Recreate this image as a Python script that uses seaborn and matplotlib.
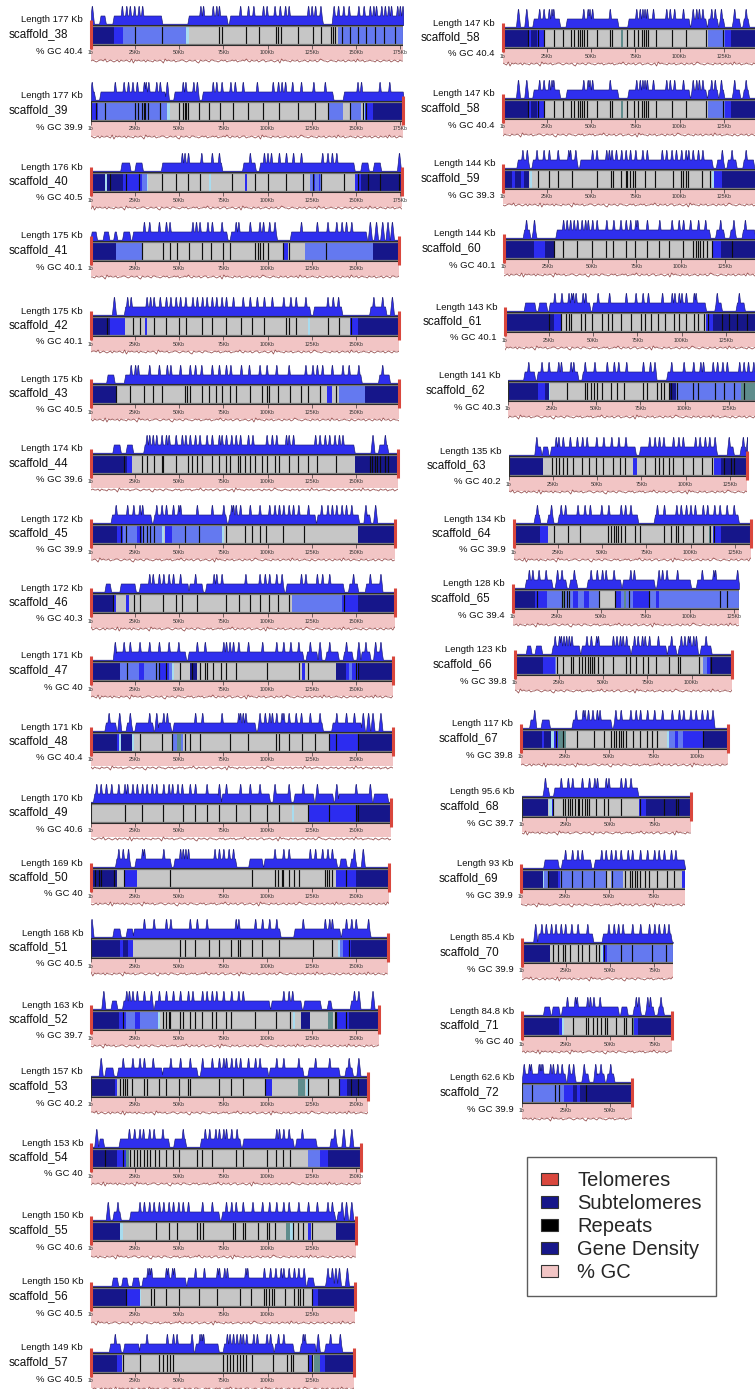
import numpy as np
import matplotlib
matplotlib.use("Agg")
import matplotlib.pyplot as plt
from matplotlib.patches import Patch
import seaborn as sns

# ---------------- data ----------------
SCAFFOLDS = ["scaffold_%d" % n for n in range(38, 73)]
LENGTHS_KB = [177, 177, 176, 174.6, 174.6, 174.6, 174, 172, 172, 171, 171, 170, 169, 168, 163,
              157, 153, 150.4, 149.6, 149, 147, 144, 144, 143, 141, 135, 134, 128, 123, 117,
              95.6, 93, 85.4, 84.8, 62.6]
GC_PERCENT = [40.4, 39.9, 40.5, 40.1, 40.1, 40.5, 39.6, 39.9, 40.3, 40.0, 40.4, 40.6, 40.0, 40.5,
              39.7, 40.2, 40.0, 40.6, 40.5, 40.5, 40.4, 39.3, 40.1, 40.1, 40.3, 40.2, 39.9, 39.4,
              39.8, 39.8, 39.7, 39.9, 39.9, 40.0, 39.9]
TELOMERES = ["L", "R", "LR", "LR", "LR", "LR", "LR", "LR", "LR", "LR", "LR", "R", "LR", "R", "LR",
             "R", "LR", "LR", "LR", "LR", "L", "L", "L", "L", "", "R", "LR", "L", "LR", "LR",
             "R", "L", "L", "LR", "R"]

# coloured blocks on the chromosome bar: (start kb, end kb, class)
# N = subtelomere navy, B = bright blue, L = light blue, C = cyan, T = teal
SEGMENTS = [
    [(0, 13, 'N'), (13, 18, 'B'), (18, 54, 'L'), (54, 55.5, 'C'), (140, 177, 'L')],
    [(0, 4, 'B'), (4, 43, 'L'), (43, 44.5, 'C'), (135, 143, 'L'), (147.5, 153, 'L'), (154, 155, 'C'), (155, 160, 'B'), (160, 177, 'N')],
    [(0, 18, 'N'), (8, 9, 'C'), (18, 29, 'B'), (29, 31.5, 'L'), (31.5, 32.5, 'C'), (67, 68, 'C'), (87, 88.5, 'B'), (124, 131, 'L'), (126, 127, 'B'), (129, 130, 'B'), (149.5, 153, 'B'), (153, 176, 'N')],
    [(0, 14, 'N'), (14, 29, 'L'), (108.5, 111.5, 'B'), (121.5, 160, 'L'), (160, 175, 'N')],
    [(0, 11, 'N'), (11, 19, 'B'), (30.5, 32, 'B'), (123, 124, 'C'), (147, 151.5, 'B'), (151.5, 175, 'N')],
    [(0, 14, 'N'), (133.5, 136.5, 'B'), (140.5, 155, 'L'), (155, 175, 'N')],
    [(0, 20.5, 'N'), (20.5, 23.5, 'B'), (149.5, 174, 'N')],
    [(0, 15, 'N'), (15, 18, 'B'), (18, 38, 'L'), (26, 29, 'B'), (38, 40, 'L'), (40, 41.5, 'C'), (42, 46, 'B'), (46, 74, 'L'), (74, 75.5, 'C'), (151.5, 172, 'N')],
    [(0, 12.5, 'N'), (12.5, 14, 'B'), (20, 21.5, 'B'), (114, 142, 'L'), (142, 151.5, 'B'), (151.5, 172, 'N')],
    [(0, 16.5, 'N'), (16.5, 38.5, 'L'), (27, 30, 'B'), (38.5, 44, 'B'), (44, 46, 'L'), (46, 47, 'C'), (56, 60, 'N'), (119.5, 121.5, 'B'), (139, 144.5, 'N'), (144.5, 151, 'B'), (146, 148, 'L'), (151, 171, 'N')],
    [(0, 14.5, 'N'), (14.5, 17, 'B'), (16, 17, 'C'), (17, 23, 'N'), (23, 24.5, 'C'), (46.5, 52, 'L'), (49, 51, 'T'), (135, 151.5, 'B'), (151.5, 171, 'N')],
    [(114, 115, 'C'), (123, 150, 'B'), (150, 170, 'N')],
    [(0, 15, 'N'), (18.5, 26, 'B'), (139, 150, 'B'), (150, 169, 'N')],
    [(0, 16.5, 'N'), (16.5, 24, 'B'), (18, 21, 'N'), (140, 141, 'C'), (141, 143, 'L'), (143, 147.5, 'B'), (147.5, 168, 'N')],
    [(0, 16, 'N'), (16, 20, 'B'), (20, 38, 'L'), (25, 28, 'B'), (38, 39, 'C'), (114.5, 115.5, 'C'), (119, 124, 'N'), (134, 137, 'T'), (138, 146, 'B'), (146, 163, 'N')],
    [(0, 13.5, 'N'), (13.5, 15, 'B'), (98.5, 102.5, 'B'), (117.5, 121.5, 'T'), (122, 123, 'C'), (140.5, 145, 'B'), (145, 157, 'N')],
    [(0, 15, 'N'), (15, 20, 'B'), (20, 21.5, 'T'), (123, 130, 'L'), (130, 134, 'B'), (134, 153, 'N')],
    [(0, 16.5, 'N'), (16.5, 18, 'C'), (110.5, 112.5, 'T'), (112.5, 114.5, 'C'), (123, 124.5, 'B'), (139, 150.4, 'N')],
    [(0, 20.5, 'N'), (20.5, 27.5, 'B'), (27.5, 28.5, 'C'), (126, 128.5, 'B'), (128.5, 150, 'N')],
    [(0, 14.5, 'N'), (14.5, 17.5, 'B'), (123, 125, 'B'), (126.5, 129.5, 'T'), (129.5, 132.5, 'B'), (132.5, 149, 'N')],
    [(0, 14, 'N'), (14, 23.5, 'B'), (16, 19, 'N'), (67, 68, 'T'), (116, 125.5, 'L'), (125.5, 129, 'B'), (129, 147, 'N')],
    [(0, 15, 'N'), (5, 7, 'B'), (10, 12, 'B'), (15.5, 16.5, 'C'), (118.5, 119.5, 'C'), (119.5, 124, 'B'), (124, 144, 'N')],
    [(0, 17, 'N'), (17, 23, 'B'), (23, 28.5, 'N'), (118, 123, 'B'), (123, 144, 'N')],
    [(0, 28, 'N'), (28, 32, 'B'), (114, 118, 'B'), (118, 143, 'N')],
    [(0, 23, 'N'), (17, 21, 'B'), (23, 24, 'C'), (92, 95, 'N'), (95, 132, 'L'), (132, 141, 'T')],
    [(0, 19.5, 'N'), (70, 72.5, 'B'), (116, 120, 'B'), (120, 135, 'N')],
    [(0, 19.5, 'N'), (15, 19.5, 'B'), (110.5, 111.5, 'T'), (112.5, 117.5, 'B'), (117.5, 134, 'N')],
    [(0, 12.5, 'N'), (12.5, 19, 'B'), (19, 27.5, 'L'), (27.5, 29.5, 'T'), (29.5, 48.5, 'L'), (34, 37, 'B'), (40, 43, 'B'), (48.5, 49.5, 'C'), (58, 61, 'B'), (61, 63, 'L'), (63, 64, 'T'), (64, 68, 'L'), (68, 77, 'B'), (77, 81, 'L'), (81, 83, 'B'), (83, 128, 'L')],
    [(0, 15.8, 'N'), (15.8, 22.5, 'B'), (22.5, 23.5, 'L'), (106.5, 108.5, 'L'), (108.5, 110.5, 'B'), (110.5, 123, 'N')],
    [(0, 17, 'N'), (12, 13, 'B'), (17, 18.5, 'C'), (18.5, 21, 'B'), (21, 25.3, 'T'), (83, 84, 'C'), (84, 92, 'L'), (87, 89, 'B'), (92, 103, 'B'), (103, 117, 'N')],
    [(0, 15, 'N'), (15.5, 17, 'C'), (17, 18, 'B'), (66.5, 70, 'B'), (70, 95.6, 'N')],
    [(0, 12.3, 'N'), (12.3, 13.3, 'C'), (13.3, 15.5, 'L'), (15.5, 21, 'N'), (21, 22.3, 'B'), (22.3, 48.2, 'L'), (51, 57.8, 'L'), (91.3, 93, 'B')],
    [(0, 15.8, 'N'), (45, 46, 'C'), (46, 85.4, 'L'), (46, 48, 'B')],
    [(0, 20.8, 'N'), (20.8, 22.6, 'B'), (22.6, 23.6, 'C'), (62.3, 63.2, 'T'), (63.2, 66, 'B'), (66, 84.8, 'N')],
    [(0, 23.6, 'L'), (23.6, 29, 'B'), (29, 36.5, 'N'), (31, 33, 'B'), (36.5, 62.6, 'N')],
]

REPEATS = [
    [25, 40, 72.5, 74, 88, 95, 105, 106, 107.5, 117, 125.5, 130.5, 136, 137, 138.5, 142, 146.5, 151, 156, 161, 166, 172],
    [3, 8, 25, 26.5, 29, 30, 30.5, 32.5, 39, 50, 52, 53, 54, 55, 61, 67, 73, 80.5, 89, 97.5, 106.5, 117.5, 127, 134, 146.5, 154, 156],
    [10.5, 20, 27, 40, 48, 55, 61.5, 80, 93, 100, 110.5, 120, 125.5, 130.5, 143.5, 151.5, 157, 164, 174.5],
    [29, 41, 45, 49, 55.5, 63, 68, 75, 78.5, 93, 94.5, 96, 97.5, 100, 108.5, 112, 133],
    [9, 24, 27.5, 35.5, 42.5, 50, 54, 63, 68.5, 76.5, 85, 91.5, 98, 110.5, 112, 116, 134, 140.5, 147.5],
    [14, 22, 30, 35, 40, 53.5, 54.5, 56, 63, 67, 71, 74.5, 78.5, 82, 90, 97, 99.5, 101, 106, 113, 119, 123, 130, 139],
    [18.8, 29, 31.5, 35.5, 40, 41, 48, 55, 57.5, 60, 63, 68.5, 72.5, 76.5, 79, 83.5, 84.5, 87.5, 90, 93, 97, 99.5, 104, 106.5, 112, 117, 123, 128, 139, 158, 159, 161, 162, 164, 166.5, 168],
    [17, 20, 27.5, 29.5, 31.5, 33.5, 35.5, 53.5, 61, 76.5, 87.5, 91.5, 95.5, 99, 109, 120.5],
    [12.5, 24.5, 27.5, 41, 48, 51.5, 60, 76.5, 84, 90, 95.5, 101, 106, 112, 143.5],
    [20.5, 37, 38.5, 42.5, 50.5, 57.5, 61.5, 64.5, 66, 69, 73.5, 76.5, 82, 99.5, 118, 123, 150, 151.5],
    [27.5, 40, 46, 53.5, 56, 61.5, 78.5, 89, 105, 106.5, 112, 119.5, 127, 135, 139, 151.5],
    [19.5, 29, 41, 52, 59, 65.5, 72.5, 82, 90, 99.5, 106.5, 123, 135, 150, 151.5],
    [2.5, 4.5, 5.5, 13, 18.5, 45, 91.5, 104, 106, 108, 109, 112, 115, 118, 132.5, 133.5, 135, 136.5, 144.5],
    [50.5, 53.5, 59, 67, 72.5, 79.5, 83.5, 84.5, 91.5, 97, 106.5, 125.5, 136.5, 146],
    [18, 41, 42.5, 44, 45, 50.5, 52, 56, 59, 63, 68.5, 71, 76.5, 79.5, 93, 105, 113, 138, 139, 144.5],
    [16.5, 18, 19.5, 20.5, 23.5, 30, 31.5, 38.5, 42.5, 50, 55, 56, 72.5, 79.5, 86, 98.5, 123, 134, 140.5, 147.5, 151.5],
    [8, 18, 22, 24.5, 26, 27.5, 30, 31.5, 33.5, 36, 38.5, 42.5, 46.5, 50, 60, 63, 68.5, 82, 86, 99.5, 105, 109, 113],
    [37, 44, 48.5, 60, 61.5, 63.5, 80.5, 81.5, 86, 87, 94.5, 99.5, 101, 104, 114.5, 117.5, 120, 125],
    [20, 34, 35.5, 42.5, 50, 61, 71.5, 84.5, 90.5, 98, 99, 101, 102.5, 103.5, 110, 115, 117.5, 118.5, 120, 125],
    [18, 27.5, 38.5, 41, 43, 44.5, 46.5, 75, 77, 78.5, 80.5, 82.5, 84.5, 86, 88, 91, 103, 111, 113.5, 114.5, 123, 125],
    [14, 20, 23.5, 29, 34, 38.5, 40.5, 42.5, 43.5, 44.5, 46, 47.5, 53, 60.5, 61.5, 70, 74.5, 76.5, 78.5, 80, 81, 82, 86.5, 96, 103.5, 115, 124.5],
    [20, 26, 31, 39, 53, 61, 62.5, 67, 69.5, 70.5, 72, 73.5, 75, 80.5, 86, 96.5, 101, 102, 103.5, 105, 113, 117],
    [28.5, 33.5, 41.5, 50, 58, 62, 69, 74.5, 81, 88, 93.5, 101.5, 107, 108.5, 110, 111, 112.5, 115, 118, 129],
    [25, 32, 34.5, 36, 37.5, 43, 45.5, 49.5, 55, 58.5, 60.5, 66, 71.5, 77, 79.5, 82.5, 86.5, 90.5, 96, 98.5, 102.5, 107, 109.5, 112.5, 115, 123, 127, 131.5, 137],
    [33.5, 43.5, 45, 47, 49, 50.5, 53, 58.5, 62, 66, 76.5, 79, 84.5, 86.5, 88.5, 91.5, 92.5, 95.5, 105, 107.5, 117, 122.5, 128, 133.5],
    [24.5, 26.5, 28.5, 30.5, 33, 36, 41.5, 45.5, 49.5, 53.5, 59, 63, 66, 77, 82.5, 85, 87.5, 90.5, 93, 98.5, 104, 109.5, 115, 122, 126, 127.5],
    [22.5, 30.5, 37.5, 53.5, 55, 56.5, 58, 59, 60.5, 63, 68.5, 71.5, 85, 89, 92, 93, 96, 101.5, 107, 111, 113.5],
    [13.5, 27.5, 29, 30.5, 31.5, 49, 58, 66, 77, 117.5, 121],
    [24, 27, 31.5, 33, 36.5, 38, 39.5, 41.5, 42.5, 43.5, 44.5, 45, 47, 50, 55.5, 63, 65, 68.5, 72.5, 75.5, 80, 87.5, 92.5, 93.5, 104.5, 111],
    [20, 24, 32, 41.5, 47, 51, 52.5, 54, 55.5, 56.5, 58, 59.5, 63.5, 67.5, 71.5, 74.5, 77, 103],
    [17.5, 23, 24.5, 26, 27, 28.5, 30, 31.5, 32.5, 34, 35.5, 37, 38, 42, 46.5, 49, 56, 67, 80.5, 87, 88.5],
    [15.5, 22.5, 29, 34.5, 41.5, 48, 51.5, 59, 62, 63, 64.5, 66, 67.5, 70, 72.5, 77, 82.5, 86.5],
    [17.5, 20.5, 23, 24.5, 27, 31.5, 34, 38, 42, 43.5, 46.5, 56, 62.5, 73.5, 81.5],
    [29, 36, 37.5, 40, 42.5, 44.5, 47, 48, 53, 58, 59, 62.5],
    [5.5, 18.5, 21, 36],
]

# gene density: plateau stretches and narrow peaks (kb)
DENSITY_PLATEAUS = [
    [(5, 8), (12.5, 40), (55, 77), (78.5, 131), (137, 177)],
    [(0, 2), (5, 42), (47, 60), (63, 137), (143, 177)],
    [(17, 22), (25, 29), (40, 74), (86, 93), (95.5, 149), (153, 157), (160, 164)],
    [(0, 3), (7, 10), (13, 14.5), (18, 22), (23.5, 77), (79, 105), (113, 156)],
    [(19, 124), (126, 142), (158, 167)],
    [(9, 13), (19, 153), (163, 169)],
    [(12.5, 16.5), (20, 23.5), (30, 149), (163, 168)],
    [(11.5, 34), (35.5, 76.5), (78, 127), (128, 151.5), (156, 158)],
    [(8, 11), (16.5, 25), (27.5, 55), (55.5, 63), (65, 109), (110.5, 143), (146, 151), (155.5, 164)],
    [(14, 53.5), (55, 120), (122, 128), (133, 140), (143, 148), (153, 158), (161, 165)],
    [(8, 14), (20, 23), (25, 35), (38, 45), (46.5, 93), (94.5, 131), (136.5, 153)],
    [(1.5, 72), (74, 101), (104, 112), (115, 126), (128, 137), (140, 158), (160, 168)],
    [(14, 22), (25, 45), (47, 82), (89.5, 97), (98, 139), (141, 144.5), (147, 150)],
    [(12.5, 16.5), (20, 23.5), (24, 107), (115, 141), (142, 158)],
    [(11.5, 14.5), (18, 34), (36, 101), (102, 119), (120.5, 130), (134, 136), (147, 152)],
    [(8, 12.5), (15, 40), (40.5, 60), (62, 100), (101, 120), (123, 140.5), (144, 148)],
    [(4.5, 7), (16, 44), (47, 53.5), (62, 84.5), (86, 114.5), (116, 127.5), (135.5, 139)],
    [(12.5, 16.5), (22, 72.5), (74, 138), (139.5, 142)],
    [(12, 15), (17.5, 20.5), (23.5, 27), (29, 53.5), (54.5, 121), (122.5, 126), (133, 137)],
    [(10.5, 16.5), (18.5, 27), (27.5, 57), (59, 72), (75, 103), (104, 114.5), (118.5, 127), (132.5, 142)],
    [(17, 32), (35.8, 65), (70.8, 105.5), (106.5, 115), (116, 121.5), (122.5, 125), (130, 134), (136, 139)],
    [(8, 14.5), (16.5, 42), (43.5, 118.5), (121, 125), (127, 132), (136, 142)],
    [(11, 14.5), (16, 18), (29.5, 116.5), (120, 124.5), (128, 131), (135, 142)],
    [(11, 17), (19, 23.5), (25, 48), (49.5, 113.5), (119, 122.5), (131, 135.5)],
    [(9, 15), (16.5, 39.5), (42, 83), (90, 141)],
    [(15, 18), (19, 22), (23.5, 71.5), (74, 117.5), (124, 127), (131, 134)],
    [(11.5, 14.5), (19, 22), (25, 70), (79.5, 127)],
    [(7, 22), (24, 30), (32, 36), (42, 61), (62, 80), (81.5, 100.5), (104, 128)],
    [(6.5, 9), (11.5, 15), (21, 36.5), (37.5, 65), (66, 85.5), (86.5, 91), (92.5, 103), (105, 111)],
    [(5, 8), (11.5, 16), (29, 51), (52.5, 108.5)],
    [(12, 15), (18, 65.5)],
    [(13, 21), (23, 39.5), (41.5, 92.5)],
    [(9, 40), (45.5, 84.5)],
    [(12.3, 15.7), (17, 21), (22.5, 54.5), (56, 59.5), (63, 67), (70, 74.5), (77, 80)],
    [(0, 24.5), (26, 30), (34, 37.5), (42, 46.5), (48, 52)],
]
DENSITY_PEAKS = [
    [0.5, 17.5, 20, 22, 24.5, 27, 29, 62, 63.5, 69, 71, 72.5, 84.5, 89, 92, 97.5, 99.5, 104, 107, 110, 112, 123, 125, 127, 130, 137.5, 140, 143, 146, 151.5, 154.5, 158, 160, 161.5, 164.5, 166.5, 168.5, 170, 173.5, 175, 176.5],
    [0.4, 13.5, 18.5, 21, 23.5, 26, 30, 31, 32.5, 37, 39, 43, 52, 53.5, 58, 60, 69, 71, 74, 79, 81.5, 86, 94, 103, 106, 108, 110, 114, 119, 126, 132.5, 151, 153, 163.5, 169],
    [51.5, 53, 55, 62.5, 68.5, 72.5, 90, 98, 100, 102, 106.5, 110.5, 114.5, 119, 131, 134, 136.5, 139, 174.5],
    [30, 33, 38.5, 42.5, 44.5, 57.5, 59.5, 61.5, 66, 68.5, 74, 82, 83.5, 90, 95.5, 97.5, 101, 104, 119, 128, 134, 139, 142, 144.5, 147.5, 158, 161.5, 165, 168, 170.5],
    [13, 20.5, 22.5, 31.5, 33.5, 35.5, 39, 42.5, 45, 48, 50.5, 53.5, 57.5, 60, 63, 65.5, 68.5, 71, 74, 76.5, 80.5, 86, 90, 94, 98, 102.5, 109, 113, 116, 121.5, 134, 137, 140, 160, 165, 170.5],
    [22.5, 25, 26.5, 33, 38.5, 43, 45, 50.5, 56, 59, 62.5, 68.5, 72.5, 76.5, 79, 85, 89.5, 95.5, 99.5, 105, 112, 121.5, 125.5, 128, 131, 136.5, 142.5, 146, 151.5, 165],
    [31.5, 33, 35, 37, 40, 42.5, 44, 48, 51.5, 53.5, 56, 59, 61.5, 65.5, 68.5, 72.5, 74, 76.5, 79.5, 82, 84.5, 89, 91.5, 99.5, 102.5, 105, 110.5, 112, 114.5, 127, 129.5, 132.5, 135, 138, 140.5, 142.5, 159.5, 166.5],
    [14, 20.5, 24, 27.5, 29, 37, 40, 42.5, 46.5, 49.5, 50.5, 60, 68.5, 75, 79.5, 80.5, 82, 84.5, 90, 95.5, 101, 104, 106.5, 109, 112, 114.5, 117.5, 123, 130.5, 134, 136.5, 139, 142, 144.5, 147.5, 155.5, 161],
    [33, 35, 38.5, 41, 44, 46.5, 50.5, 59, 69.5, 71, 74, 87.5, 95.5, 98.5, 101, 105, 108, 119, 121.5, 128, 131, 135, 148.5, 158, 164],
    [13.5, 18.5, 22, 27.5, 33, 38.5, 44, 49.5, 60, 64.5, 75, 76.5, 78.5, 80.5, 83.5, 89, 97, 105, 109, 113, 117.5, 124, 129.5, 135, 144.5, 151.5, 155.5, 161, 164],
    [10, 16, 22, 33, 37, 41, 43, 59, 63, 74, 83.5, 84.5, 86, 87.5, 95.5, 98.5, 101, 102.5, 105, 108, 109, 112, 116, 119, 124, 129.5, 139, 144.5, 149, 154, 157, 159.5, 164],
    [3, 5.5, 8.5, 11.5, 15.5, 19, 20.5, 23.5, 26, 29, 31.5, 34.5, 37, 41, 44, 46, 49, 51.5, 56, 59, 65.5, 72.5, 76.5, 84.5, 90, 95.5, 104, 112, 120, 128, 139, 150, 158],
    [15.5, 18, 21, 29, 30, 41, 50.5, 52, 53.5, 55, 70, 72.5, 75, 78, 80.5, 104, 109, 112, 124, 127, 131, 134, 136.5, 149, 154],
    [0.3, 30, 35.5, 42.5, 45, 56, 60, 65.5, 82, 83.5, 93, 97, 101, 105, 120, 132.5, 135, 136.5, 144.5, 147.5, 150, 157],
    [7, 20, 21.5, 23.5, 26, 30, 34, 38.5, 42.5, 46.5, 50.5, 55, 57.5, 63, 65.5, 68.5, 71, 75, 79.5, 83.5, 86, 109, 112, 114, 149, 151.5, 159.5],
    [5.5, 18, 23.5, 27.5, 30, 35, 45, 50.5, 56, 63, 68.5, 72.5, 75, 76.5, 79.5, 82, 84.5, 89, 93, 95.5, 105, 109, 117.5, 127, 135, 146, 151.5],
    [3, 21.5, 24.5, 27.5, 29.5, 33, 35.5, 40.5, 52, 64.5, 67, 70.5, 72.5, 75, 76.5, 79.5, 82.5, 105, 106.5, 109, 112, 119.5, 138, 143, 147.5],
    [9.5, 15, 27.5, 30, 33, 35.5, 38.5, 41, 44, 46.5, 49.5, 52, 55, 63, 68.5, 76.5, 79.5, 82, 86, 91.5, 97, 101, 105, 109, 112, 117.5, 123, 128, 134, 136.5, 142, 144.5, 147.5],
    [32, 33, 34, 42.5, 43.5, 46, 47, 59, 64, 71.5, 72.5, 75.5, 77, 87.5, 88.5, 98, 101.5, 104.5, 107.5, 109, 112, 115, 117.5, 120.5, 134, 136.5, 138.5, 140.5, 145],
    [13.5, 31.5, 43, 46.5, 48.5, 57, 61.5, 62.5, 63.5, 77, 78.5, 80.5, 82.5, 84.5, 86, 88, 92, 94, 99.5, 101.5, 106, 109, 120, 121, 128.5, 135.5, 141],
    [8.5, 13.2, 20.5, 23, 26, 27.5, 28.5, 45.5, 48, 49, 50.5, 60.5, 75.5, 77.5, 79, 80.2, 81.5, 85, 92.5, 94.5, 97, 102, 107.5, 109.5, 111, 113, 118, 120, 123.5, 131, 137.5],
    [11, 13.5, 19, 23, 26, 31, 37, 38, 41, 50.5, 53, 58.5, 60, 61.5, 64, 67, 69.5, 72, 75, 79, 81.5, 90, 92.5, 95.5, 98, 101, 103.5, 105, 107.5, 110.5, 113, 124, 129.5, 137.5],
    [12.5, 17, 33.5, 35.5, 37.5, 39.5, 41.5, 44, 46, 47.5, 50, 52.5, 58, 62, 66, 69, 71.5, 74.5, 75.5, 81, 88, 95, 99, 101.5, 105.5, 110, 114, 122.5, 130, 136.5],
    [28, 32, 36, 37.5, 38.5, 40, 44, 45.5, 52.5, 59, 68.5, 74, 78, 81, 89, 94.5, 96, 98.5, 100, 102.5, 107, 108, 120, 132.5],
    [11.5, 19, 23, 28.5, 30, 35.5, 37, 43.5, 49, 56, 60, 62.5, 67, 76.5, 80.5, 83, 92.5, 99.5, 105, 109, 110.5, 116, 118.5, 121.5, 124, 131, 133.5, 136, 139],
    [15.5, 26.5, 28, 30.5, 34.5, 38.5, 41.5, 44, 49.5, 53.5, 58, 62, 66, 79.5, 82.5, 85, 87.5, 93, 96, 98.5, 105.5, 108, 111, 113.5, 116.5, 124.5, 132.5, 135],
    [13, 21, 26.5, 29, 36, 40, 43, 49.5, 53.5, 60.5, 63, 66, 81, 85, 92, 94.5, 97.5, 100, 102.5, 107, 109.5, 113.5, 116.5, 120.5, 124.5],
    [9, 11, 14.5, 18.5, 25, 27.5, 34.5, 44, 47.5, 50.5, 52.5, 57, 66.5, 68.5, 82.5, 84.5, 87, 93, 107, 113.5, 114.5, 127],
    [22.5, 25, 26, 27.5, 29, 30.5, 32, 40.5, 43, 46, 47, 55.5, 57.5, 59.5, 61, 63, 67.5, 69.5, 72, 73.5, 76, 81, 88.5, 94, 96, 98, 99, 101, 102.5, 108],
    [7.5, 31, 35, 36, 38, 40.5, 43, 44.5, 53.5, 56.5, 62, 65, 67.5, 71.5, 75.5, 80, 85.5, 89.5, 92, 96, 99, 102.5, 105.5, 108.5],
    [13, 22, 26, 28.5, 34, 38, 41, 42.5, 47.5, 49, 56, 58.5, 61.5],
    [25, 29, 32, 34.5, 45.5, 48, 51, 53.5, 56.5, 60.5, 63, 67.5, 71.5, 75.5, 78, 81, 85, 87.5],
    [7.5, 11, 13.5, 16.5, 19, 22, 24.5, 28, 31.5, 37, 49, 52, 54.5, 57, 62.5, 67, 72, 75, 77.5, 80.5, 83],
    [25.5, 30, 31, 37, 38.5, 40.5, 44, 64.5, 66, 71, 72.5, 78.5],
    [1, 4, 5, 9.5, 10.5, 11.5, 16, 17.5, 20, 22.5, 26.5, 29, 35, 41.5, 44.5, 50],
]

# % GC trace (deviation units per kb)
GC_TRACE = ("54565445365456546455456374545546455645545735455465544565455467455456445565454655"
            "45465545356455465446554565473545564554655456455465345565455645546545546355465545"
            "56456545546545645546355465455645546554654564455465545565455463556454655456454655"
            "45654554657455465")

LEGEND_LABELS = ["Telomeres", "Subtelomeres", "Repeats", "Gene Density", "% GC"]

LEFT_ORDER = SCAFFOLDS[:20]
RIGHT_ORDER = ["scaffold_58"] + SCAFFOLDS[20:]

# ---------------- layout / style ----------------
W, H = 755, 1389
PX_PER_KB = 1.765
LEFT_X0 = 91
LEFT_YC = [34, 110, 181, 250, 325, 393, 463, 533, 602, 670, 741, 812, 877, 947, 1019, 1086, 1157, 1230, 1296, 1362]
RIGHT_YC = [37, 108, 178, 248, 321, 390, 465, 533, 598, 664, 738, 806, 878, 952, 1025, 1092]
RIGHT_X0 = [503, 503, 503, 504, 505, 508, 509, 514, 513, 515, 521, 522, 521, 522, 522, 522]

COLORS = {'N': '#16168a', 'B': '#2c2cf0', 'L': '#6479f0', 'C': '#a8dcef', 'T': '#5e8c8c'}
GRAY = '#c6c6c6'
DENS_FILL = '#2f2fee'
DENS_EDGE = '#1c1c78'
PINK = '#f2c5c5'
GC_LINE = '#9a5454'
TEL_RED = '#d9473d'
FONT = ['Liberation Sans', 'DejaVu Sans']

sns.set_theme(style="white")
plt.rcParams['font.family'] = FONT

fig = plt.figure(figsize=(W / 100, H / 100), dpi=100)


def fx(px):
    return px / W


def fy(py):
    return 1 - py / H


def draw_track(name, x0, yc, k):
    i = SCAFFOLDS.index(name)
    L = LENGTHS_KB[i]
    ax = fig.add_axes([fx(x0), fy(yc + 33), L * PX_PER_KB / W, 64 / H])
    ax.set_xlim(0, L)
    ax.set_ylim(33, -31)
    ax.axis('off')

    # gene density profile
    x = np.arange(0, L + 0.001, 0.05)
    h = np.full_like(x, 1.3)
    for a, b in DENSITY_PLATEAUS[i]:
        ramp = np.clip(np.minimum(x - (a - 0.4), (b + 0.4) - x) / 0.8, 0, 1)
        h = np.maximum(h, 1.3 + (9.5 - 1.3) * ramp)
    for p in DENSITY_PEAKS[i]:
        h = np.maximum(h, 19 - 17 * np.clip(np.abs(x - p) - 0.12, 0, None))
    ax.fill_between(x, -9 - h, -9, facecolor=DENS_FILL, edgecolor=DENS_EDGE, lw=0.45)

    # chromosome bar
    ax.barh(y=1, width=L, left=0, height=20, color=GRAY, lw=0)
    for a, b, c in SEGMENTS[i]:
        ax.barh(y=1, width=b - a, left=a, height=20, color=COLORS[c], lw=0)
    ax.vlines(REPEATS[i], -9, 11, color='#0d0d0d', lw=0.85)
    ax.hlines([-8.2, 10.2], 0, L, color='#7c7c7c', lw=0.9)
    ax.plot([0, L, L, 0, 0], [-9, -9, 11, 11, -9], color='#2b2b2b', lw=0.8)

    # % GC band
    ax.barh(y=18.25, width=L, left=0, height=14.5, color=PINK, lw=0)
    ticks = np.arange(0, L - 0.5 + 1e-9, 25)
    ax.vlines(ticks, 11, 15, color='#222222', lw=0.45)
    for t in ticks:
        lab = "1b" if t == 0 else "%dKb" % t
        ax.text(t, 19, lab, ha='center', va='center', fontsize=3.7, color='#333333',
                clip_on=False)
    n = int(np.floor(L)) + 1
    off = (k * 11) % 40
    vals = np.array([int(ch) for ch in GC_TRACE[off:off + n]], dtype=float)
    gx = np.arange(len(vals)) * (L / (len(vals) - 1))
    sns.lineplot(x=gx, y=27 + (vals - 5) * 1.0, ax=ax, color=GC_LINE, lw=0.6,
                 estimator=None, sort=False)

    # telomeres
    tel = TELOMERES[i]
    if "L" in tel:
        ax.vlines([0], -14, 15, color=TEL_RED, lw=2.2, clip_on=False)
    if "R" in tel:
        ax.vlines([L], -14, 15, color=TEL_RED, lw=2.2, clip_on=False)

    # labels
    fig.text(fx(x0 - 8), fy(yc - 14), "Length %s Kb" % format(L, '.3g'), ha='right',
             va='center', fontsize=6.8, color='#111111')
    fig.text(fx(x0 - 53), fy(yc), name, ha='center', va='center', fontsize=8.4, color='#111111')
    fig.text(fx(x0 - 8), fy(yc + 17), "%% GC %s" % format(GC_PERCENT[i], 'g'), ha='right',
             va='center', fontsize=6.8, color='#111111')


k = 0
for name, yc in zip(LEFT_ORDER, LEFT_YC):
    draw_track(name, LEFT_X0, yc, k)
    k += 1
for name, yc, x0 in zip(RIGHT_ORDER, RIGHT_YC, RIGHT_X0):
    draw_track(name, x0, yc, k)
    k += 1

legend_colors = [TEL_RED, COLORS['N'], '#000000', COLORS['N'], PINK]
handles = [Patch(facecolor=c, edgecolor='#333333', lw=0.8, label=l)
           for c, l in zip(legend_colors, LEGEND_LABELS)]
leg = fig.legend(handles=handles, loc='upper left', bbox_to_anchor=(fx(527), fy(1157)),
                 fontsize=14.5, frameon=True, fancybox=False, edgecolor='#333333',
                 handlelength=0.85, handleheight=0.55, handletextpad=0.95,
                 labelspacing=0.2, borderpad=0.7, borderaxespad=0)
leg.get_frame().set_linewidth(1.0)

fig.savefig("out.png", dpi=100)
